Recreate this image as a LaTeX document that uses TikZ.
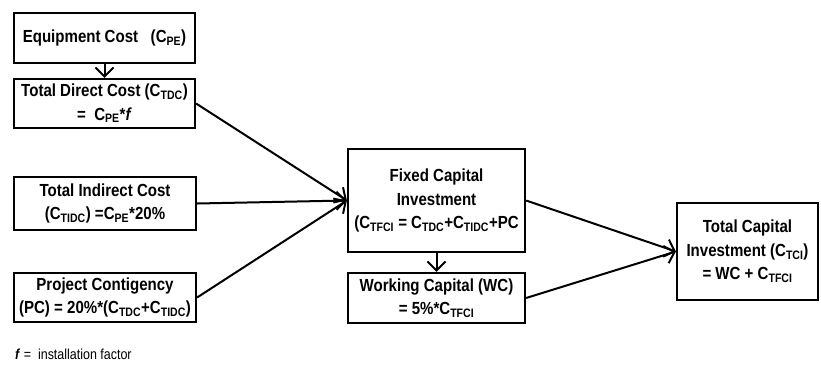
\documentclass[tikz,border=0pt]{standalone}
\usepackage{fontspec}
\setmainfont{Liberation Sans}[FakeStretch=0.86]
\usetikzlibrary{positioning,arrows.meta,calc}
\tikzset{
    x=1pt,
    y=-1pt,
    costbox/.style = {
        draw,
        shape=rectangle,
        line width=2.2pt,
        align=center,
        inner sep=0pt,
        font=\fontsize{17.5}{23.5}\selectfont\bfseries
    },
    note/.style = {
        anchor=west,
        inner sep=0pt,
        font=\fontsize{14.5}{15}\selectfont
    },
    link/.style = {
        draw,
        line width=2pt
    },
    >={Straight Barb[length=9pt,width=18pt,line width=2pt]},
}
\newcommand{\cst}[1]{C\textsubscript{#1}}

\begin{document}
\begin{tikzpicture}
            \useasboundingbox (0,0) rectangle (821,364);

            \node[costbox, minimum width=181, minimum height=50] (equip) at (104.5,38) {Equipment Cost~~ (\cst{PE})};
            \node[costbox, minimum width=181, minimum height=49] (direct) at (104.5,103.5) {Total Direct Cost (\cst{TDC})\\ =~ \cst{PE}*\textit{f}};
            \node[costbox, minimum width=182, minimum height=53] (indirect) at (105,203.5) {Total Indirect Cost\\ (\cst{TIDC}) =\cst{PE}*20\%};
            \node[costbox, minimum width=182, minimum height=49] (conting) at (105,297.5) {Project Contigency\\ (PC) = 20\%*(\cst{TDC}+\cst{TIDC})};
            \node[costbox, minimum width=177, minimum height=103] (fixed) at (436.5,200.5) {Fixed Capital\\ Investment\\ (\cst{TFCI} = \cst{TDC}+\cst{TIDC}+PC};
            \node[costbox, minimum width=177, minimum height=50] (working) at (436.5,298) {Working Capital (WC)\\ = 5\%*\cst{TFCI}};
            \node[costbox, minimum width=141, minimum height=97] (total) at (747.5,251.5) {Total Capital\\ Investment (\cst{TCI})\\ = WC + \cst{TFCI}};
            \node[note] (factor) at (15,354) {\textbf{\textit{f}} = ~installation factor};

            \path[link, ->] (equip.south) -- (direct.north);
            \path[link, ->] (direct.east) -- (fixed.west);
            \path[link, ->] (indirect.east) -- (fixed.west);
            \path[link, ->] (conting.east) -- (fixed.west);
            \path[link, ->] (fixed.south) -- (working.north);
            \path[link, ->] (fixed.east) -- (total.west);
            \path[link, ->] (working.east) -- (total.west);

        \end{tikzpicture}
\end{document}
